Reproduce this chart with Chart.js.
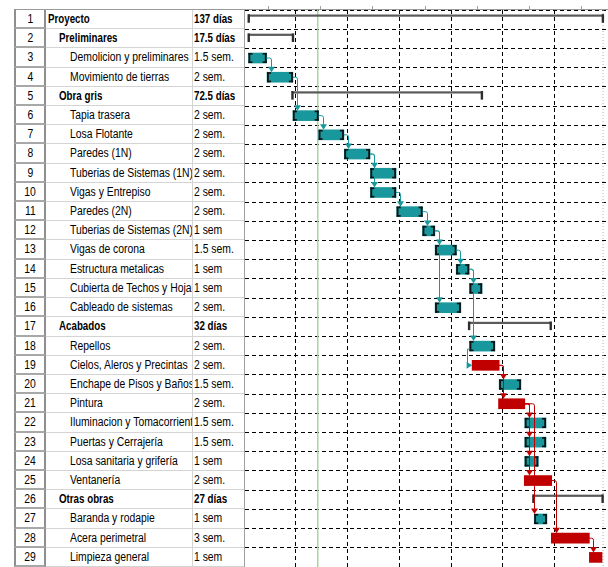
<!DOCTYPE html>
<html>
<head>
<meta charset="utf-8">
<script src="https://cdn.jsdelivr.net/npm/chart.js@4.4.0/dist/chart.umd.min.js"></script>
<style>
body { margin:0; background:#fff; width:608px; height:567px; overflow:hidden; position:relative;
       font-family:"Liberation Sans",Arial,sans-serif; font-size:12.5px; color:#000; }
#tabla { position:absolute; left:14px; top:10px; width:230px; }
.fila { position:absolute; left:0; width:230px; display:flex; box-sizing:border-box; }
.fila > div { box-sizing:border-box; white-space:nowrap; overflow:hidden; }
.c-id { width:32px; text-align:center; border-left:2px solid #8f8f8f; border-right:2px solid #8f8f8f; border-bottom:2px solid #a8a8a8; }
.c-nom { width:147px; border-right:1px solid #d4d4d4; border-bottom:1px solid #d4d4d4; }
.c-dur { width:51px; padding-left:1px; border-bottom:1px solid #d4d4d4; }
.t { display:inline-block; transform-origin:0 50%; transform:scaleX(0.83); }
.c-id .t { transform-origin:50% 50%; }
.negrita { font-weight:bold; }
.negrita .t { transform:scaleX(0.78); }
#linea-sup { position:absolute; left:14px; top:9px; width:594px; height:1px; background:#9a9a9a; z-index:5; }
#gantt { position:absolute; left:244px; top:0; }
</style>
</head>
<body>
<div id="linea-sup"></div>
<div id="tabla"></div>
<canvas id="gantt" width="364" height="567"></canvas>

<script>
const nombres = ['Proyecto', 'Preliminares', 'Demolicion y preliminares', 'Movimiento de tierras', 'Obra gris',
    'Tapia trasera', 'Losa Flotante', 'Paredes (1N)', 'Tuberias  de Sistemas (1N)', 'Vigas y Entrepiso',
    'Paredes (2N)', 'Tuberias de Sistemas (2N)', 'Vigas de corona', 'Estructura metalicas', 'Cubierta de Techos y Hojalatería',
    'Cableado de sistemas', 'Acabados', 'Repellos', 'Cielos, Aleros y Precintas', 'Enchape de Pisos y Baños',
    'Pintura', 'Iluminacion y Tomacorrientes', 'Puertas y Cerrajería', 'Losa sanitaria y grifería', 'Ventanería',
    'Otras obras', 'Baranda y rodapie', 'Acera perimetral', 'Limpieza general'];
const niveles = [0,1,2,2,1,2,2,2,2,2,2,2,2,2,2,2,1,2,2,2,2,2,2,2,2,1,2,2,2];
const duraciones = ['137 días','17.5 días','1.5 sem.','2 sem.','72.5 días','2 sem.','2 sem.','2 sem.','2 sem.','2 sem.',
    '2 sem.','1 sem','1.5 sem.','1 sem','1 sem','2 sem.','32 días','2 sem.','2 sem.','1.5 sem.',
    '2 sem.','1.5 sem.','1.5 sem.','1 sem','2 sem.','27 días','1 sem','3 sem.','1 sem'];
const tipos = ['resumen','resumen','tarea','tarea','resumen','tarea','tarea','tarea','tarea','tarea',
    'tarea','tarea','tarea','tarea','tarea','tarea','resumen','tarea','critica','tarea',
    'critica','tarea','tarea','tarea','critica','resumen','tarea','critica','critica'];
const inicio = [0.35, 0.35, 0.35, 1.78, 3.73, 3.78, 5.77, 7.75, 9.77, 9.77,
    11.8, 13.8, 14.77, 16.4, 17.43, 14.77, 17.38, 17.43, 17.63, 19.72,
    19.67, 21.7, 21.7, 21.7, 21.66, 22.35, 22.43, 23.75, 26.69];
const fin = [27.75, 3.8, 1.75, 3.78, 18.4, 5.77, 7.72, 9.74, 11.75, 11.75,
    13.8, 14.75, 16.42, 17.4, 18.4, 16.76, 23.72, 19.39, 19.72, 21.4,
    21.7, 23.34, 23.34, 22.74, 23.78, 27.73, 23.41, 26.69, 27.67];
// [predecesora, sucesora, tipo] con ids de fila
const enlaces = [[3,4,'FC'],[4,6,'FC'],[6,7,'FC'],[7,8,'FC'],[8,9,'FC'],[8,10,'FC'],[10,11,'FC'],[11,12,'FC'],
    [12,13,'FC'],[12,16,'FC'],[13,14,'FC'],[14,15,'FC'],[14,18,'FC'],[18,19,'CC'],[19,20,'FC'],[19,21,'FC'],
    [21,22,'FC'],[21,23,'FC'],[21,24,'FC'],[21,25,'FC'],[21,27,'FC'],[25,28,'FC'],[28,29,'FC']];
const fechaHoy = 5.7;
const finProyecto = 27.75;
const marcasEscala = [1.82, 5.84, 9.87, 13.97, 18.0, 22.0, 26.05];
const ejeMax = 28.13;

const filas = nombres.map((n, i) => String(i + 1));
const ALTO = 557 / filas.length;

// tabla de la izquierda
const tabla = document.getElementById('tabla');
nombres.forEach((n, i) => {
    const fila = document.createElement('div');
    fila.className = 'fila';
    fila.style.top = (i * ALTO) + 'px';
    fila.style.height = ALTO + 'px';
    fila.style.lineHeight = (ALTO - 1) + 'px';
    const negrita = tipos[i] === 'resumen' ? ' negrita' : '';
    fila.innerHTML = `<div class="c-id"><span class="t">${i + 1}</span></div>
        <div class="c-nom${negrita}" style="padding-left:${2 + niveles[i] * 11}px"><span class="t">${n}</span></div>
        <div class="c-dur${negrita}"><span class="t">${duraciones[i]}</span></div>`;
    tabla.appendChild(fila);
});

const TEAL = '#18989c';
const ROJO = '#c00000';

function serie(t) {
    return inicio.map((s, i) => tipos[i] === t ? [s, fin[i]] : null);
}

const ganttPlugin = {
    id: 'gantt',
    beforeDatasetsDraw(chart) {
        const { ctx, chartArea: a, scales: { x } } = chart;
        ctx.save();
        // linea de hoy
        ctx.strokeStyle = '#a8d5a0';
        ctx.lineWidth = 1.5;
        const hx = x.getPixelForValue(fechaHoy);
        ctx.beginPath(); ctx.moveTo(hx, a.top); ctx.lineTo(hx, a.bottom); ctx.stroke();
        // fin del proyecto
        ctx.strokeStyle = '#b0b0b0';
        ctx.lineWidth = 1;
        ctx.setLineDash([1, 2]);
        const fx = x.getPixelForValue(finProyecto);
        ctx.beginPath(); ctx.moveTo(fx, a.top); ctx.lineTo(fx, a.bottom); ctx.stroke();
        ctx.setLineDash([]);
        // marcas de la escala superior
        ctx.strokeStyle = '#a0a0a0';
        marcasEscala.forEach(v => {
            const mx = Math.round(x.getPixelForValue(v)) + 0.5;
            ctx.beginPath(); ctx.moveTo(mx, a.top - 4); ctx.lineTo(mx, a.top - 1); ctx.stroke();
        });
        ctx.restore();
    },
    afterDatasetsDraw(chart) {
        const { ctx, scales: { x, y } } = chart;
        ctx.save();
        // barras de resumen
        chart.getDatasetMeta(2).data.forEach((el, i) => {
            if (tipos[i] !== 'resumen') return;
            const x0 = x.getPixelForValue(inicio[i]);
            const x1 = x.getPixelForValue(fin[i]);
            const top = y.getPixelForValue(i) - ALTO / 2;
            ctx.fillStyle = '#5a5a5a';
            ctx.fillRect(x0, top + 4.5, x1 - x0, 2.2);
            ctx.fillStyle = '#2e2e2e';
            ctx.fillRect(x0 - 1, top + 4.2, 2.4, 8.6);
            ctx.fillRect(x1 - 1.4, top + 4.2, 2.4, 8.6);
        });
        // corchetes negros de las tareas normales
        ctx.fillStyle = '#111';
        chart.getDatasetMeta(0).data.forEach((el, i) => {
            if (tipos[i] !== 'tarea') return;
            const l = el.base, r = el.x, t = el.y - 5, b = el.y + 5;
            ctx.fillRect(l, t, 1.8, 10);
            ctx.fillRect(l, t, 4, 1.6);
            ctx.fillRect(l, b - 1.6, 4, 1.6);
            ctx.fillRect(r - 1.8, t, 1.8, 10);
            ctx.fillRect(r - 4, t, 4, 1.6);
            ctx.fillRect(r - 4, b - 1.6, 4, 1.6);
        });
        // vinculos
        ctx.lineWidth = 1;
        enlaces.forEach(([p, s, t]) => {
            const a = p - 1, b = s - 1;
            const color = tipos[a] === 'critica' ? ROJO : TEAL;
            ctx.strokeStyle = color;
            ctx.fillStyle = color;
            if (t === 'FC') {
                const pe = x.getPixelForValue(fin[a]);
                const py = y.getPixelForValue(a);
                const ss = x.getPixelForValue(inicio[b]);
                const sy = y.getPixelForValue(b) - 5;
                const ax = Math.round(Math.max(pe + 4, ss)) + 0.5;
                ctx.beginPath();
                ctx.moveTo(pe, py);
                ctx.lineTo(ax - 2, py);
                ctx.quadraticCurveTo(ax, py, ax, py + 2);
                ctx.lineTo(ax, sy - 4);
                ctx.stroke();
                ctx.beginPath();
                ctx.moveTo(ax - 3.5, sy - 5.5); ctx.lineTo(ax + 3.5, sy - 5.5); ctx.lineTo(ax, sy);
                ctx.closePath(); ctx.fill();
            } else {
                const ps = x.getPixelForValue(inicio[a]);
                const py = y.getPixelForValue(a) + 3;
                const ss = x.getPixelForValue(inicio[b]);
                const sy = y.getPixelForValue(b);
                const lx = Math.round(ps - 3) + 0.5;
                ctx.beginPath();
                ctx.moveTo(ps, py); ctx.lineTo(lx, py); ctx.lineTo(lx, sy); ctx.lineTo(ss - 5, sy);
                ctx.stroke();
                ctx.beginPath();
                ctx.moveTo(ss - 5.5, sy - 3.5); ctx.lineTo(ss - 5.5, sy + 3.5); ctx.lineTo(ss, sy);
                ctx.closePath(); ctx.fill();
            }
        });
        ctx.restore();
    }
};

new Chart(document.getElementById('gantt'), {
    type: 'bar',
    data: {
        labels: filas,
        datasets: [
            { label: 'Tareas', data: serie('tarea'), backgroundColor: TEAL, barThickness: 10, grouped: false, borderWidth: 0, borderSkipped: false },
            { label: 'Críticas', data: serie('critica'), backgroundColor: ROJO, barThickness: 10, grouped: false, borderWidth: 0, borderSkipped: false },
            { label: 'Resumen', data: serie('resumen'), backgroundColor: 'rgba(0,0,0,0)', barThickness: 9, grouped: false, borderWidth: 0 }
        ]
    },
    options: {
        indexAxis: 'y',
        responsive: false,
        animation: false,
        layout: { padding: { top: 10, left: 0, right: 0, bottom: 0 } },
        plugins: { legend: { display: false }, tooltip: { enabled: false } },
        scales: {
            x: {
                type: 'linear', position: 'top', min: 0, max: ejeMax,
                ticks: { display: false, stepSize: 4 },
                grid: { drawTicks: false, color: c => (c.tick && c.tick.value > 0 && c.tick.value < 28) ? '#000' : 'rgba(0,0,0,0)' },
                border: { display: false, dash: [4, 3] }
            },
            y: {
                type: 'category', offset: true,
                ticks: { display: false },
                grid: { offset: true, drawTicks: false, color: '#000' },
                border: { display: true, color: '#a0a0a0', width: 1, dash: [4, 3] }
            }
        }
    },
    plugins: [ganttPlugin]
});
</script>
</body>
</html>
